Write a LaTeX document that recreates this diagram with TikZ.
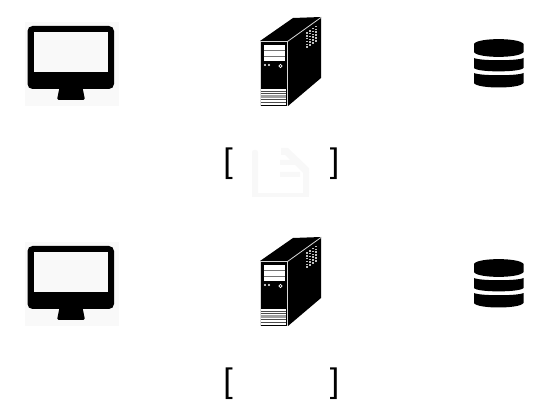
\documentclass[tikz,border=0pt]{standalone}
\usepackage{fontspec}
\newfontfamily\bracketfont{Liberation Sans}
\definecolor{paleback}{HTML}{F9F9F9}
\definecolor{palefile}{HTML}{F8F8F8}
\definecolor{grillegray}{HTML}{A0A0A0}
\tikzset{
  bracketmark/.style={inner sep=0pt, font=\fontsize{34}{34}\selectfont\bracketfont},
  monitor/.pic={
    \fill[paleback] (25,22) rectangle (119,106);
    \fill[black, rounded corners=5pt] (27.5,26) rectangle (114,89);
    \fill[paleback] (34,32) rectangle (108,72);
    \fill[black, rounded corners=1.5pt] (60,85)--(82,85)--(85,100)--(57,100)--cycle;
  },
  tower/.pic={
    \fill[black] (260,41)--(293,18)--(321,17)--(321,78)--(288,106)--(260,106)--cycle;
    \draw[white!85!black, line width=.8pt] (260.5,106)--(260.5,41.5)--(287.5,41.5)--(287.5,106) (287.5,41.5)--(321,17.5);
    \fill[white] (263.5,45) rectangle (285,61.5);
    \foreach \y in {50.5,56} \draw[black!55, line width=.7pt] (263.5,\y)--(285,\y);
    \fill[white] (265,65) circle (1.2pt) (269,65) circle (1.2pt);
    \draw[white, line width=.7pt] (280.5,66) circle (1.7pt);
    \fill[white] (261,89) rectangle (285.5,105);
    \foreach \y in {91,93.5,99.5,102} \draw[black!70, line width=.6pt] (261,\y)--(285.5,\y);
    \fill[grillegray] (261,95) rectangle (285.5,98);
    \foreach \x in {0,1,...,3} \foreach \y in {0,1,...,5}
      \fill[white!75!black] (305.5+\x*3.1,32+\y*2.9-\x*2.1) rectangle ++(2,1.7);
  },
  barrel/.pic={
    \fill[black] (474,44) .. controls (477,37.5) and (520,37.5) .. (523.5,44)--(523.5,52) .. controls (520,58.5) and (477,58.5) .. (474,52)--cycle;
    \fill[black] (474,58) .. controls (480,61) and (518,61) .. (523.5,58)--(523.5,68) .. controls (520,72.5) and (477,72.5) .. (474,68)--cycle;
    \fill[black] (474,73) .. controls (480,76) and (518,76) .. (523.5,73)--(523.5,83) .. controls (520,89) and (477,89) .. (474,83)--cycle;
  }
}
\begin{document}
\begin{tikzpicture}[x=1pt,y=-1pt]
  \useasboundingbox (0,0) rectangle (557,419);
  % first row
  \pic at (0,0) {monitor};
  \pic at (0,0) {tower};
  \pic at (0,0) {barrel};
  % second row
  \pic at (0,220) {monitor};
  \pic at (0,220) {tower};
  \pic at (0,220) {barrel};
  % faint file
  \fill[palefile, rounded corners=2pt] (252,150) rectangle (258,197);
  \fill[palefile] (252,193) rectangle (309,197);
  \fill[palefile, rounded corners=2pt] (303,170) rectangle (309,197);
  \fill[palefile] (281,148)--(288,148)--(309,168)--(309,173)--(303,173)--(285,155)--(281,155)--cycle;
  \fill[palefile] (280,160) rectangle (295,165) (280,172) rectangle (300,177);
  % brackets
  \node[bracketmark] (openA) at (228,163.5) {[};
  \node[bracketmark] (closeA) at (334.5,163.5) {]};
  \node[bracketmark] (openB) at (228,383.5) {[};
  \node[bracketmark] (closeB) at (334.5,383.5) {]};
\end{tikzpicture}
\end{document}
